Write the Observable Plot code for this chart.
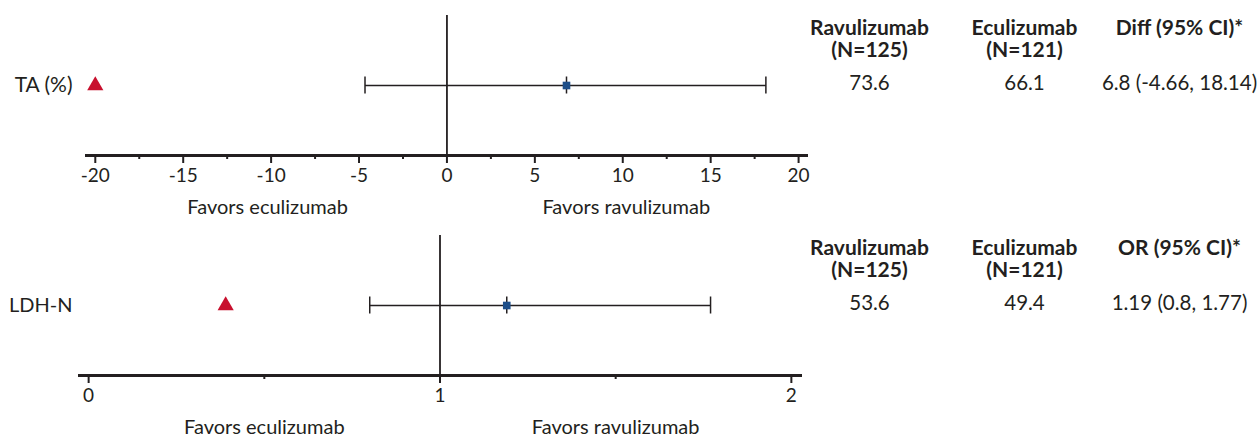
<!DOCTYPE html>
<html>
<head>
<meta charset="utf-8">
<script src="https://cdn.jsdelivr.net/npm/d3@7"></script>
<script src="https://cdn.jsdelivr.net/npm/@observablehq/plot@0.6"></script>
<style>
  body { margin: 0; background: #fff; }
  #root { width: 1258px; }
  .row { position: relative; width: 1258px; }
  .row svg { display: block; }
  .row .table { position: absolute; left: 780px; top: 0; }
</style>
</head>
<body>
<div id="root"></div>
<script>
// ---- data ----
const outcomes = ["TA (%)", "LDH-N"];
const estimates = [6.8, 1.19];
const ciLow = [-4.66, 0.8];
const ciHigh = [18.14, 1.77];
const nonInferiorityMargins = [-20, 0.39];
const nullValues = [0, 1];
const ravulizumabValues = ["73.6", "53.6"];
const eculizumabValues = ["66.1", "49.4"];
const effectHeaders = ["Diff (95% CI)*", "OR (95% CI)*"];
const effectTexts = ["6.8 (-4.66, 18.14)", "1.19 (0.8, 1.77)"];
const armHeaders = ["Ravulizumab\n(N=125)", "Eculizumab\n(N=121)"];
const majorTicks = [[-20, -15, -10, -5, 0, 5, 10, 15, 20], [0, 1, 2]];
const minorTicks = [[-17.5, -12.5, -7.5, -2.5, 2.5, 7.5, 12.5, 17.5], [0.5, 1.5]];
const xDomains = [[-20.5, 20.45], [-0.026, 2.026]];
const favorsLabels = ["Favors eculizumab", "Favors ravulizumab"];
const favorsPositions = [[-10.2, 10.2], [0.5, 1.5]];

// ---- layout / style ----
const ink = "#231f20";
const red = "#c8102e";
const blue = "#1d4e89";
const font = "Lato, 'Open Sans', sans-serif";
const panelHeights = [220, 219];
const marginLefts = [86, 79];
const marginRights = [14, 20];
const labelPads = [14, 7];
const labelSizes = [21, 20];
const columns = ["rav", "ecu", "eff"];
const capInset = 70 - 8.5;

const root = document.getElementById("root");

outcomes.forEach((outcome, i) => {
  const row = {outcome, est: estimates[i], lo: ciLow[i], hi: ciHigh[i], margin: nonInferiorityMargins[i]};
  const h = panelHeights[i];

  const forest = Plot.plot({
    width: 820,
    height: h,
    marginLeft: marginLefts[i],
    marginRight: marginRights[i],
    marginTop: 15,
    marginBottom: h - 155,
    x: {domain: xDomains[i], label: null},
    y: {type: "band", domain: [outcome], padding: 0, label: null},
    style: {fontFamily: font, fontSize: "19px", color: ink, background: "white"},
    marks: [
      Plot.ruleX([nullValues[i]], {stroke: ink, strokeWidth: 1.8}),
      Plot.frame({anchor: "bottom", stroke: ink, strokeWidth: 3}),
      Plot.axisX(majorTicks[i], {tickSize: 8, tickPadding: 5, strokeWidth: 2, fontSize: 19, fill: ink, stroke: ink, tickFormat: d => String(d)}),
      Plot.axisX(minorTicks[i], {tickSize: 4, strokeWidth: 2, stroke: ink, tickFormat: () => ""}),
      Plot.axisY({tickSize: 0, tickPadding: labelPads[i], fontSize: labelSizes[i], fill: ink}),
      Plot.link([row], {x1: "lo", x2: "hi", y1: "outcome", y2: "outcome", stroke: ink, strokeWidth: 1.5}),
      Plot.tickX([row], {x: "lo", y: "outcome", insetTop: capInset, insetBottom: capInset, stroke: ink, strokeWidth: 1.5}),
      Plot.tickX([row], {x: "hi", y: "outcome", insetTop: capInset, insetBottom: capInset, stroke: ink, strokeWidth: 1.5}),
      Plot.tickX([row], {x: "est", y: "outcome", insetTop: capInset, insetBottom: capInset, stroke: ink, strokeWidth: 1.5}),
      Plot.dot([row], {x: "est", y: "outcome", symbol: "square", r: 4.3, fill: blue, stroke: "none"}),
      Plot.dot([row], {x: "margin", y: "outcome", symbol: "triangle", r: 6, fill: red, stroke: "none"}),
      Plot.text(favorsLabels, {x: favorsPositions[i], text: Plot.identity, frameAnchor: "bottom", dy: 52, lineAnchor: "middle", fontSize: 20, fill: ink})
    ]
  });

  const headerTexts = [armHeaders[0], armHeaders[1], effectHeaders[i]];
  const valueTexts = [ravulizumabValues[i], eculizumabValues[i], effectTexts[i]];

  const table = Plot.plot({
    width: 478,
    height: h,
    marginLeft: 89,
    marginRight: 79,
    marginTop: 15,
    marginBottom: h - 155,
    x: {type: "point", domain: columns, padding: 0, axis: null},
    y: {type: "band", domain: [outcome], padding: 0, axis: null},
    style: {fontFamily: font, fontSize: "20px", color: ink, background: "transparent"},
    marks: [
      Plot.text(columns, {x: Plot.identity, text: (d, k) => headerTexts[k], frameAnchor: "top", lineAnchor: "top", dy: 3, lineHeight: 1.08, fontWeight: "bold", fontSize: 21, fill: ink}),
      Plot.text(columns, {x: Plot.identity, y: () => outcome, text: (d, k) => valueTexts[k], dy: -2, fontSize: 20.5, fill: ink})
    ]
  });
  table.classList.add("table");

  const div = document.createElement("div");
  div.className = "row";
  div.appendChild(forest);
  div.appendChild(table);
  root.appendChild(div);
});
</script>
</body>
</html>
